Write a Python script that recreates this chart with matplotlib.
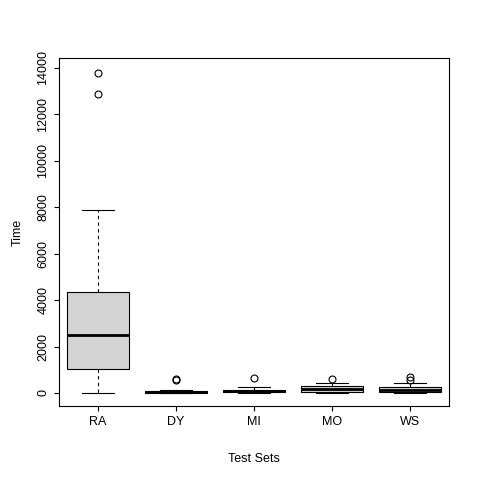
import matplotlib
matplotlib.use("Agg")
import matplotlib.pyplot as plt

labels = ["RA", "DY", "MI", "MO", "WS"]
q1 = [1030, 20, 30, 60, 60]
med = [2500, 50, 70, 170, 150]
q3 = [4350, 80, 120, 300, 250]
whislo = [20, 0, 0, 10, 10]
whishi = [7900, 110, 250, 450, 420]
fliers = [[12900, 13800], [550, 620], [650], [600], [580, 700]]

stats = [dict(label=l, q1=a, med=m, q3=b, whislo=lo, whishi=hi, fliers=f)
         for l, a, m, b, lo, hi, f in zip(labels, q1, med, q3, whislo, whishi, fliers)]

plt.rcParams["font.family"] = ["Liberation Sans", "DejaVu Sans"]
fig = plt.figure(figsize=(4.8, 4.8), dpi=100)
ax = fig.add_axes([59 / 480, 74 / 480, 390 / 480, 348 / 480])
ax.bxp(stats, widths=0.8, patch_artist=True,
       boxprops=dict(facecolor="#d3d3d3", edgecolor="black", linewidth=0.8),
       medianprops=dict(color="black", linewidth=2),
       whiskerprops=dict(color="black", linestyle=(0, (3, 3)), linewidth=0.8),
       capprops=dict(color="black", linewidth=0.8),
       flierprops=dict(marker="o", markerfacecolor="none", markeredgecolor="black",
                       markersize=5, markeredgewidth=0.8))
ax.set_xlim(0.5, 5.5)
ax.set_ylim(-560, 14430)
ax.set_yticks(range(0, 14001, 2000))
ax.tick_params(axis="y", labelrotation=90, labelsize=9)
ax.tick_params(axis="x", labelsize=9)
for t in ax.get_yticklabels():
    t.set_va("center")
ax.set_xlabel("Test Sets", fontsize=9, labelpad=18)
ax.set_ylabel("Time", fontsize=9, labelpad=10)
fig.savefig("out.png", dpi=100)
